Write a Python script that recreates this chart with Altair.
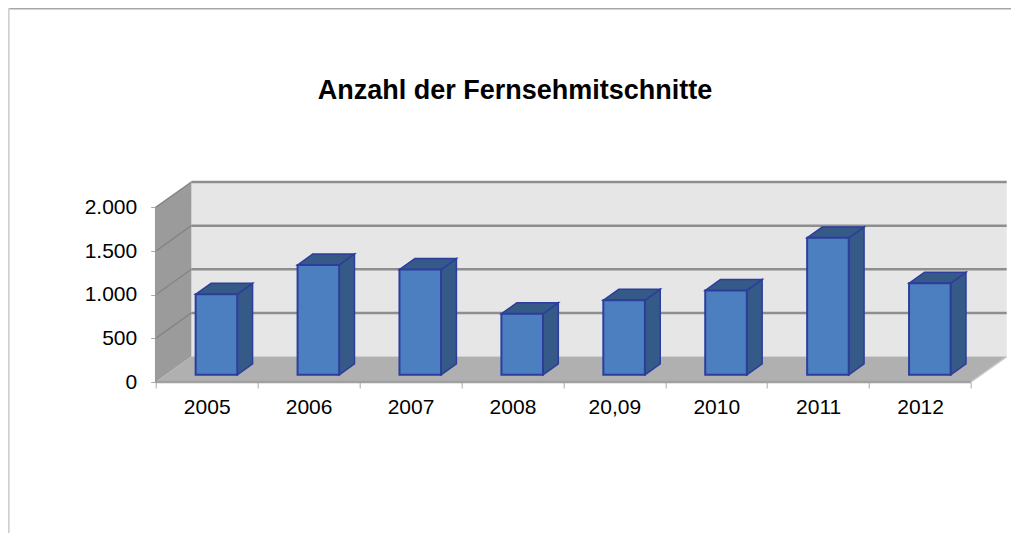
import altair as alt
import pandas as pd

categories = ["2005", "2006", "2007", "2008", "20,09", "2010", "2011", "2012"]
values = [923, 1260, 1207, 700, 855, 968, 1570, 1050]
y_ticks = [0, 500, 1000, 1500, 2000]
title_text = "Anzahl der Fernsehmitschnitte"

N = len(categories)
Y_TOP = y_ticks[-1]
DX, DY = 0.35, 292           # depth of the 3D box, in data units
T0, T1 = 0.28, 0.71          # where the bars sit along that depth
B0, BW = 0.294, 0.408        # bar start and width inside its category

xs = alt.Scale(domain=[0, N + DX], nice=False, zero=False)
ys = alt.Scale(domain=[0, Y_TOP + DY], nice=False, zero=False)
X = alt.X("x:Q", scale=xs, title=None, axis=alt.Axis(
    values=list(range(N + 1)), domain=False, grid=False, tickColor="#a8a8a8", tickSize=6,
    labelExpr="[" + ",".join(f"'{c}'" for c in categories) + ",''][datum.value]",
    labelOffset=51, labelFontSize=21, labelFont="Liberation Sans", labelColor="#000000",
    labelPadding=8, labelFlush=False, labelOverlap=False, labelBound=False))
Y = alt.Y("y:Q", scale=ys, title=None, axis=alt.Axis(
    values=y_ticks, domain=False, grid=False, tickColor="#a8a8a8", tickSize=5,
    labelExpr="replace(format(datum.value, ','), ',', '.')",
    labelFontSize=21, labelFont="Liberation Sans", labelColor="#000000", labelPadding=14))


def vpara(rows, fill, stroke=None, sw=0):
    """area with vertical sides: rows of x, y, y2"""
    kw = dict(fill=fill, clip=False)
    if stroke:
        kw.update(stroke=stroke, strokeWidth=sw)
    return alt.Chart(pd.DataFrame(rows, columns=["x", "y", "y2", "g"])).mark_area(**kw).encode(
        x=X, y=Y, y2="y2:Q", detail="g:N")


def hpara(rows, fill, stroke=None, sw=0):
    """area with horizontal sides: rows of y, x, x2"""
    kw = dict(fill=fill, orient="horizontal", clip=False)
    if stroke:
        kw.update(stroke=stroke, strokeWidth=sw)
    return alt.Chart(pd.DataFrame(rows, columns=["y", "x", "x2", "g"])).mark_area(**kw).encode(
        y=Y, x=X, x2="x2:Q", detail="g:N")


def rules(rows, color, sw):
    return alt.Chart(pd.DataFrame(rows, columns=["x", "x2", "y", "y2"])).mark_rule(
        color=color, strokeWidth=sw).encode(x=X, x2="x2:Q", y=Y, y2="y2:Q")


back_wall = vpara([[DX, DY, Y_TOP + DY, 0], [N + DX, DY, Y_TOP + DY, 0]], "#e6e6e6")
left_wall = vpara([[0, 0, Y_TOP, 0], [DX, DY, Y_TOP + DY, 0]], "#9b9b9b")
floor = hpara([[0, 0, N, 0], [DY, DX, N + DX, 0]], "#b0b0b0")
grid = rules([[DX, N + DX, v + DY, v + DY] for v in y_ticks[1:]], "#8e8e8e", 2.5)
wall_lines = rules([[0, DX, v, v + DY] for v in y_ticks[1:]], "#858585", 1.5)
edges = rules([[0, N, 0, 0]], "#a0a0a0", 2.5)
left_edge = rules([[0, 0, 0, Y_TOP]], "#9a9a9a", 1.5)
floor_right = rules([[N, N + DX, 0, DY]], "#c8c8c8", 1.5)

FRONT = "#4c7fbf"
DARK = "#355a88"
EDGE = "#2c3d9c"
layers = [back_wall, left_wall, floor, grid, wall_lines, edges, left_edge, floor_right]
for i, v in enumerate(values):
    l = i + B0 + DX * T0
    r = l + BW
    base0 = DY * T0
    base1 = DY * T1
    shift = DX * (T1 - T0)
    layers.append(vpara([[r, base0, base0 + v, i], [r + shift, base1, base1 + v, i]], DARK, EDGE, 1.5))
    layers.append(hpara([[base0 + v, l, r, i], [base1 + v, l + shift, r + shift, i]], DARK, EDGE, 1.5))
    layers.append(alt.Chart(pd.DataFrame([{"x": l, "x2": r, "y": base0, "y2": base0 + v}])).mark_rect(
        fill=FRONT, stroke=EDGE, strokeWidth=2).encode(x=X, x2="x2:Q", y=Y, y2="y2:Q"))

# outer frame of the picture
frame_top = alt.Chart(pd.DataFrame({"a": [0]})).mark_rule(color="#a6a6a6", strokeWidth=1.5).encode(
    x=alt.value(-147.7), x2=alt.value(856), y=alt.value(-173.3))
frame_left = alt.Chart(pd.DataFrame({"a": [0]})).mark_rule(color="#d0d0d0", strokeWidth=2).encode(
    x=alt.value(-147), y=alt.value(-174), y2=alt.value(352))
title_mark = alt.Chart(pd.DataFrame({"t": [title_text]})).mark_text(
    fontSize=27, font="Liberation Sans", fontWeight="bold", color="#000000", baseline="middle", align="center"
).encode(text="t:N", x=alt.value(359.3), y=alt.value(-91))
layers += [frame_top, frame_left, title_mark]

chart = alt.layer(*layers).properties(
    width=851, height=200,
    padding={"left": 147.7, "top": 174, "right": 4.3, "bottom": 151},
    autosize=alt.AutoSizeParams(type="none"),
    background="#ffffff",
).configure_view(stroke=None)

chart.save("out.html", embed_options={"renderer": "svg", "actions": False})
